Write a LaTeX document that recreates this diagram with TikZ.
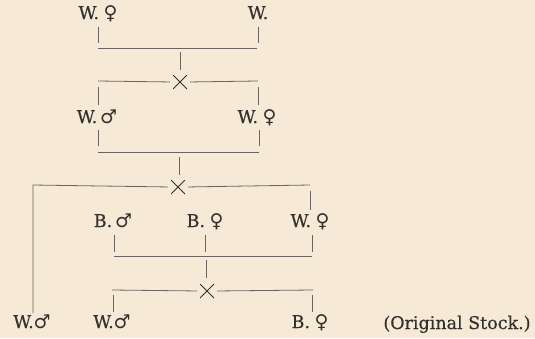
\documentclass[tikz,border=0pt]{standalone}
\usepackage{fontspec}
\setmainfont{DejaVu Serif}[FakeBold=0.5]
\newfontfamily\symfont{DejaVu Sans}
\definecolor{paper}{HTML}{F6E9D6}
\definecolor{ink}{HTML}{33312E}
\definecolor{rule}{HTML}{6A6560}
\newcommand{\fem}{{\symfont\fontsize{19}{19}\selectfont ♀}}
\newcommand{\mal}{{\symfont\fontsize{19}{19}\selectfont ♂}}
\newcommand{\gapx}{\hspace{4.5pt}}
\begin{document}
\begin{tikzpicture}[x=1pt,y=-1pt,
  lab/.style={inner sep=0pt,anchor=base,text=ink,font=\fontsize{17.5}{17.5}\selectfont},
  crossmark/.style={inner sep=0pt,minimum size=14pt,
    path picture={\draw[ink,line width=0.9pt]
      (path picture bounding box.north west) -- (path picture bounding box.south east)
      (path picture bounding box.north east) -- (path picture bounding box.south west);}},
  ln/.style={draw=rule,line width=0.8pt}]
\fill[paper] (0,0) rectangle (535,338);
\useasboundingbox (0,0) rectangle (535,338);
% generation 0
\node[lab] (a1) at (98,19) {W.\gapx\fem};
\node[lab] (a2) at (258,19) {W.};
\coordinate (a1t) at (98,27); \coordinate (a1b) at (98,43);
\coordinate (a2t) at (258,27); \coordinate (a2b) at (258,43);
\coordinate (bar1l) at (98,48); \coordinate (bar1r) at (257,48);
\coordinate (s1t) at (180,52); \coordinate (s1b) at (180,70);
\node[crossmark] (x1) at (180,82) {};
\coordinate (x1l) at (98,81); \coordinate (x1r) at (258,81);
\coordinate (x1lt) at (98,87); \coordinate (x1lb) at (98,105);
\coordinate (x1rt) at (258,87); \coordinate (x1rb) at (258,105);
\draw[ln] (a1t) -- (a1b); \draw[ln] (a2t) -- (a2b);
\draw[ln] (bar1l) -- (bar1r);
\draw[ln] (s1t) -- (s1b);
\draw[ln,shorten >=3pt] (x1l) -- (x1.west); \draw[ln,shorten <=3pt] (x1.east) -- (x1r);
\draw[ln] (x1lt) -- (x1lb); \draw[ln] (x1rt) -- (x1rb);
% generation 1
\node[lab] (b1) at (97,123) {W.\,\mal};
\node[lab] (b2) at (257,123) {W.\gapx\fem};
\coordinate (b1t) at (98,130); \coordinate (b1b) at (98,146);
\coordinate (b2t) at (259,130); \coordinate (b2b) at (259,146);
\coordinate (bar2l) at (98,152); \coordinate (bar2r) at (259,152);
\coordinate (s2t) at (179,157); \coordinate (s2b) at (179,175);
\node[crossmark] (x2) at (178,187) {};
\coordinate (x2l) at (33,185); \coordinate (x2r) at (310,185);
\coordinate (x2lb) at (33,313);
\coordinate (x2rt) at (310,191); \coordinate (x2rb) at (310,210);
\draw[ln] (b1t) -- (b1b); \draw[ln] (b2t) -- (b2b);
\draw[ln] (bar2l) -- (bar2r);
\draw[ln] (s2t) -- (s2b);
\draw[ln,shorten >=3pt] (x2lb) -- (x2l) -- (x2.west); \draw[ln,shorten <=3pt] (x2.east) -- (x2r);
\draw[ln] (x2rt) -- (x2rb);
% generation 2
\node[lab] (c1) at (113,227) {B.\,\mal};
\node[lab] (c2) at (205,227) {B.\gapx\fem};
\node[lab] (c3) at (310,227) {W.\gapx\fem};
\coordinate (c1t) at (114,235); \coordinate (c1b) at (114,252);
\coordinate (c2t) at (205,235); \coordinate (c2b) at (205,252);
\coordinate (c3t) at (312,235); \coordinate (c3b) at (312,252);
\coordinate (bar3l) at (114,256); \coordinate (bar3r) at (312,256);
\coordinate (s3t) at (206,260); \coordinate (s3b) at (206,278);
\node[crossmark] (x3) at (207,291) {};
\coordinate (x3l) at (112,290); \coordinate (x3r) at (313,290);
\coordinate (x3lt) at (113,295); \coordinate (x3lb) at (113,312);
\coordinate (x3rt) at (312,295); \coordinate (x3rb) at (312,312);
\draw[ln] (c1t) -- (c1b); \draw[ln] (c2t) -- (c2b); \draw[ln] (c3t) -- (c3b);
\draw[ln] (bar3l) -- (bar3r);
\draw[ln] (s3t) -- (s3b);
\draw[ln,shorten >=3pt] (x3l) -- (x3.west); \draw[ln,shorten <=3pt] (x3.east) -- (x3r);
\draw[ln] (x3lt) -- (x3lb); \draw[ln] (x3rt) -- (x3rb);
% generation 3
\node[lab] (d0) at (32,328) {W.\mal};
\node[lab] (d1) at (112,328) {W.\mal};
\node[lab] (d2) at (310,328) {B.\gapx\fem};
\node[lab] (note) at (457,329) {(Original Stock.)};
\end{tikzpicture}
\end{document}
